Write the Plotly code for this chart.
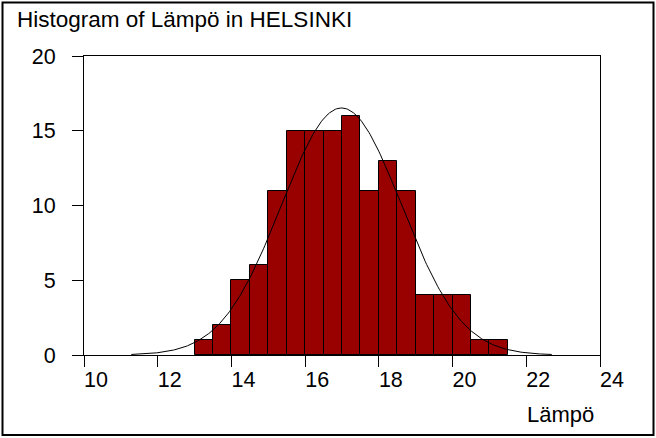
import numpy as np
import plotly.graph_objects as go

# Histogram bins (left edges), bin width and counts
bin_left = [13.0, 13.5, 14.0, 14.5, 15.0, 15.5, 16.0, 16.5, 17.0, 17.5,
            18.0, 18.5, 19.0, 19.5, 20.0, 20.5, 21.0]
bin_width = 0.5
counts = [1, 2, 5, 6, 11, 15, 15, 15, 16, 11, 13, 11, 4, 4, 4, 1, 1]

x_ticks = [10, 12, 14, 16, 18, 20, 22, 24]
y_ticks = [0, 5, 10, 15, 20]

title_text = "Histogram of Lämpö in HELSINKI"
x_title = "Lämpö"

# Fitted normal curve derived from the binned data
mids = np.array(bin_left) + bin_width / 2
cnt = np.array(counts, dtype=float)
n = cnt.sum()
mean = (mids * cnt).sum() / n
sd = np.sqrt(((mids - mean) ** 2 * cnt).sum() / (n - 1))
xc = np.linspace(mean - 3.5 * sd, mean + 3.5 * sd, 300)
yc = n * bin_width / (sd * np.sqrt(2 * np.pi)) * np.exp(-0.5 * ((xc - mean) / sd) ** 2)

W, H = 656, 438
L, R, T, B = 84, 56, 56, 83
pw, ph = W - L - R, H - T - B

fig = go.Figure()
fig.add_trace(go.Bar(
    x=mids, y=counts, width=bin_width,
    marker=dict(color="#990000", line=dict(color="black", width=1)),
    showlegend=False, hoverinfo="skip",
))
fig.add_trace(go.Scatter(
    x=xc, y=yc, mode="lines", line=dict(color="black", width=1),
    showlegend=False, hoverinfo="skip",
))

fam = "Liberation Sans, Arial, sans-serif"
font = dict(family=fam, size=21.5, color="black")

fig.update_layout(
    width=W, height=H,
    margin=dict(l=L, r=R, t=T, b=B, pad=0),
    paper_bgcolor="white", plot_bgcolor="white",
    font=font,
    bargap=0,
    title=dict(text=title_text, x=17 / W, xref="container", xanchor="left",
               y=1 - 19 / H, yref="container", yanchor="middle",
               font=dict(family=fam, size=22.5, color="black")),
    xaxis=dict(range=[10, 24], tickvals=x_ticks, ticks="outside", ticklen=11,
               tickcolor="black", tickwidth=1, showgrid=False, zeroline=False,
               showline=True, linecolor="black", linewidth=1, mirror=True,
               ticklabelshift=12, ticklabelstandoff=-6, tickfont=font),
    yaxis=dict(range=[0, 20], tickvals=y_ticks, ticks="outside", ticklen=11,
               tickcolor="black", tickwidth=1, showgrid=False, zeroline=False,
               showline=True, linecolor="black", linewidth=1, mirror=True,
               ticklabelstandoff=12, tickfont=font),
    annotations=[dict(text=x_title, xref="paper", yref="paper",
                      x=(596 - L) / pw, y=(H - B - 414) / ph,
                      xanchor="right", yanchor="middle", showarrow=False,
                      font=dict(family=fam, size=22, color="black"))],
    shapes=[dict(type="rect", xref="paper", yref="paper",
                 x0=(2.5 - L) / pw, x1=(653.5 - L) / pw,
                 y0=(H - B - 435) / ph, y1=(H - B - 2.5) / ph,
                 line=dict(color="black", width=2), fillcolor="rgba(0,0,0,0)",
                 layer="above")],
)

fig.write_html("out.html",
               config={"displayModeBar": False},
               post_script="document.body.style.margin='0';"
                           "document.body.style.overflow='hidden';")
